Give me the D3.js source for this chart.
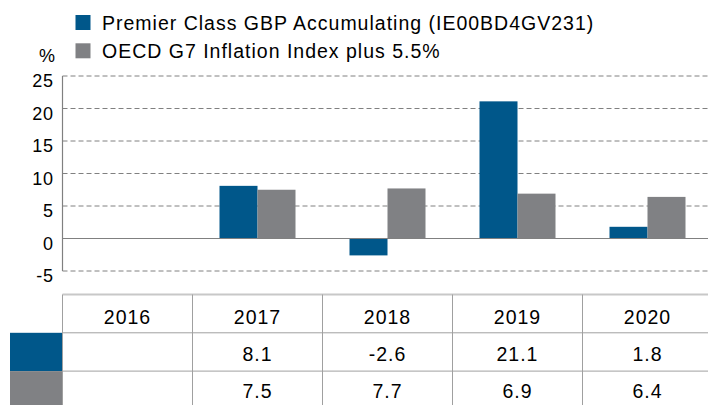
<!DOCTYPE html>
<html lang="en">
<head>
<meta charset="utf-8">
<script src="https://d3js.org/d3.v7.min.js"></script>
<style>
  body { margin: 0; background: #fff; }
  text { font-family: "Liberation Sans", Arial, sans-serif; fill: #000; }
</style>
</head>
<body>
<script>
    // data
    const years = ["2016", "2017", "2018", "2019", "2020"];
    const fundValues = [null, 8.1, -2.6, 21.1, 1.8];
    const benchValues = [null, 7.5, 7.7, 6.9, 6.4];
    const seriesNames = ["Premier Class GBP Accumulating (IE00BD4GV231)", "OECD G7 Inflation Index plus 5.5%"];
    const seriesColors = ["#00578a", "#808184"];
    const yTicks = [-5, 0, 5, 10, 15, 20, 25];

    const W = 708, H = 405;
    const plotLeft = 62.5, plotRight = 712.5;
    const plotTop = 76, plotBottom = 271;

    const svg = d3.select("body").append("svg")
      .attr("width", W).attr("height", H);

    const x = d3.scaleBand().domain(years).range([plotLeft, plotRight]).padding(0);
    const y = d3.scaleLinear().domain([-5, 25]).range([plotBottom, plotTop]);
    const barW = 38;

    // gridlines
    svg.append("g").selectAll("line")
      .data(yTicks.filter(d => d !== 0))
      .enter().append("line")
      .attr("x1", plotLeft).attr("x2", W)
      .attr("y1", d => y(d)).attr("y2", d => y(d))
      .attr("stroke", "#808080").attr("stroke-width", 1)
      .attr("stroke-dasharray", "5,3");

    // y axis labels
    const yAxis = svg.append("g")
      .attr("transform", `translate(${plotLeft},0)`)
      .call(d3.axisLeft(y).tickValues(yTicks).tickSize(0).tickPadding(9).tickFormat(d => String(d)));
    yAxis.select(".domain").remove();
    yAxis.selectAll("text")
      .attr("dy", "0.6em")
      .style("font-size", "18px")
      .style("letter-spacing", "0.6px")
      .style("font-family", "Liberation Sans, Arial, sans-serif")
      .attr("fill", "#000");

    svg.append("text").attr("x", 47).attr("y", 62)
      .attr("text-anchor", "middle").style("font-size", "18px").text("%");

    // bars
    const groups = svg.append("g").selectAll("g")
      .data(years).enter().append("g");
    [fundValues, benchValues].forEach((vals, s) => {
      groups.filter((d, i) => vals[i] !== null)
        .append("rect")
        .attr("x", d => x(d) + x.bandwidth() / 2 - barW + s * barW)
        .attr("width", barW)
        .attr("y", (d) => y(Math.max(0, vals[years.indexOf(d)])))
        .attr("height", (d) => Math.abs(y(vals[years.indexOf(d)]) - y(0)))
        .attr("fill", seriesColors[s]);
    });

    // zero line and left axis line
    svg.append("line").attr("x1", plotLeft).attr("x2", W)
      .attr("y1", y(0)).attr("y2", y(0))
      .attr("stroke", "#808080").attr("stroke-width", 1.2);
    svg.append("line").attr("x1", plotLeft).attr("x2", plotLeft)
      .attr("y1", plotTop).attr("y2", plotBottom)
      .attr("stroke", "#808080").attr("stroke-width", 1.2);

    // legend
    const legend = svg.append("g");
    seriesNames.forEach((name, i) => {
      legend.append("rect").attr("x", 75.5).attr("y", 15 + i * 28.3)
        .attr("width", 15).attr("height", 15).attr("fill", seriesColors[i]);
      legend.append("text").attr("x", 102).attr("y", 30 + i * 28.3)
        .style("font-size", "19.5px").style("letter-spacing", "1px").text(name);
    });

    // data table
    const tTop = 294.5, rowH = 38.3;
    const table = svg.append("g");
    table.append("line").attr("x1", plotLeft).attr("x2", W)
      .attr("y1", tTop).attr("y2", tTop)
      .attr("stroke", "#c8c8c8").attr("stroke-width", 2);
    [1, 2].forEach(r => {
      table.append("line").attr("x1", plotLeft).attr("x2", W)
        .attr("y1", tTop + r * rowH).attr("y2", tTop + r * rowH)
        .attr("stroke", "#a0a0a0").attr("stroke-width", 1);
    });
    years.forEach(yr => {
      table.append("line").attr("x1", x(yr)).attr("x2", x(yr))
        .attr("y1", tTop).attr("y2", H)
        .attr("stroke", "#a0a0a0").attr("stroke-width", 1);
    });
    seriesColors.forEach((c, i) => {
      table.append("rect").attr("x", 10).attr("y", tTop + (i + 1) * rowH)
        .attr("width", 52).attr("height", rowH).attr("fill", c);
    });
    const baseOff = [29.5, 66.5, 103.5];
    table.selectAll(".yr").data(years).enter().append("text")
      .attr("x", d => x(d) + x.bandwidth() / 2).attr("y", tTop + baseOff[0])
      .attr("text-anchor", "middle").style("font-size", "19.5px")
      .style("letter-spacing", "1px").text(d => d);
    [fundValues, benchValues].forEach((vals, s) => {
      table.append("g").selectAll("text").data(years).enter().append("text")
        .attr("x", d => x(d) + x.bandwidth() / 2)
        .attr("y", tTop + baseOff[s + 1])
        .attr("text-anchor", "middle").style("font-size", "19.5px")
        .style("letter-spacing", "1px")
        .text((d, i) => vals[i] === null ? "" : vals[i].toFixed(1));
    });
</script>
</body>
</html>
